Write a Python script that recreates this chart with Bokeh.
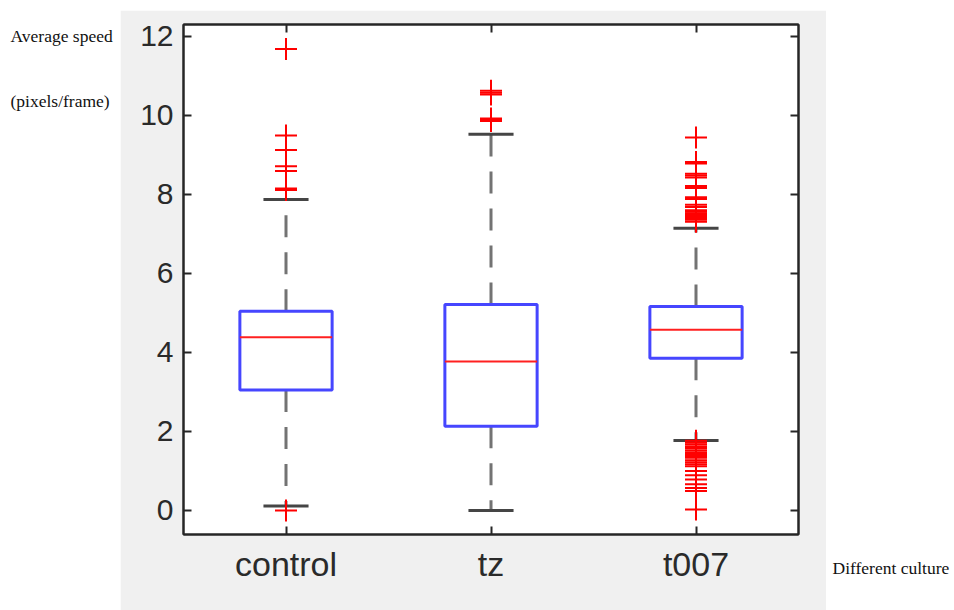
from bokeh.plotting import figure
from bokeh.layouts import row, column
from bokeh.models import FixedTicker, LinearAxis, Range1d
from bokeh.core.properties import value
from bokeh.embed import file_html
from bokeh.resources import INLINE

# ---- data ----
categories = ["control", "tz", "t007"]
q1 = [3.05, 2.13, 3.85]
median = [4.38, 3.77, 4.57]
q3 = [5.04, 5.21, 5.16]
whisker_lo = [0.11, 0.0, 1.77]
whisker_hi = [7.87, 9.52, 7.14]

outliers_control = [11.68, 9.49, 9.12, 8.71, 8.59, 8.15, 8.11, 0.0]
outliers_tz = [10.62, 10.57, 10.53, 9.92, 9.89, 9.86]
outliers_t007 = [9.44, 8.82, 8.78, 8.52, 8.48, 8.43, 8.21, 8.16, 7.93, 7.88,
                 7.74, 7.68, 7.60, 7.56, 7.52, 7.48, 7.44, 7.40, 7.36, 7.31,
                 1.76, 1.71, 1.67, 1.62, 1.58, 1.52, 1.47, 1.43, 1.38, 1.33,
                 1.27, 1.22, 1.17, 1.12, 1.00, 0.89, 0.78, 0.66, 0.57, 0.49, 0.02]
outliers = [outliers_control, outliers_tz, outliers_t007]

y_ticks = [0, 2, 4, 6, 8, 10, 12]
y_label_lines = ["Average speed", "(pixels/frame)"]
x_label = "Different culture"

# ---- main figure ----
xs = [i + 1 for i in range(len(categories))]
BOX_W = 0.45
CAP_W = 0.22

p = figure(width=706, height=600, output_backend="svg", toolbar_location=None,
           x_range=Range1d(0.5, 3.5), y_range=Range1d(-0.61, 12.3),
           min_border_left=63, min_border_right=28, min_border_top=14,
           min_border_bottom=76, x_axis_location=None, y_axis_location=None)
p.border_fill_color = "#f0f0f0"
p.background_fill_color = "white"
p.outline_line_color = "#262626"
p.outline_line_width = 2
p.grid.visible = False
p.margin = 0

tick_font = "Liberation Sans"


def make_axis(ticks, font_size=None, overrides=None):
    ax = LinearAxis(ticker=FixedTicker(ticks=ticks))
    ax.major_tick_in = 8
    ax.major_tick_out = 0
    ax.minor_tick_line_color = None
    ax.major_tick_line_color = "#262626"
    ax.major_tick_line_width = 2
    ax.axis_line_color = "#262626"
    ax.axis_line_width = 2
    if font_size:
        ax.major_label_text_font = tick_font
        ax.major_label_text_font_size = font_size
        ax.major_label_text_color = "#2a2a2a"
        ax.major_label_standoff = 10
    else:
        ax.major_label_text_font_size = "0px"
        ax.major_label_text_color = None
        ax.major_label_standoff = 0
    if overrides:
        ax.major_label_overrides = overrides
    return ax


p.add_layout(make_axis(y_ticks, "30px"), "left")
p.add_layout(make_axis(y_ticks), "right")
p.add_layout(make_axis(xs, "34px", {x: c for x, c in zip(xs, categories)}), "below")
p.add_layout(make_axis(xs), "above")

# whiskers (dashed)
p.segment(x0=xs, y0=q3, x1=xs, y1=whisker_hi, line_color="#737373", line_width=3,
          line_dash="22 15")
p.segment(x0=xs, y0=q1, x1=xs, y1=whisker_lo, line_color="#737373", line_width=3,
          line_dash="22 15")
# caps
p.segment(x0=[x - CAP_W / 2 for x in xs], y0=whisker_hi,
          x1=[x + CAP_W / 2 for x in xs], y1=whisker_hi,
          line_color="#454545", line_width=3)
p.segment(x0=[x - CAP_W / 2 for x in xs], y0=whisker_lo,
          x1=[x + CAP_W / 2 for x in xs], y1=whisker_lo,
          line_color="#454545", line_width=3)
# boxes
p.quad(left=[x - BOX_W / 2 for x in xs], right=[x + BOX_W / 2 for x in xs],
       bottom=q1, top=q3, fill_color=None, line_color="#4646ff", line_width=3)
# medians
p.segment(x0=[x - BOX_W / 2 for x in xs], y0=median,
          x1=[x + BOX_W / 2 for x in xs], y1=median,
          line_color="#ff2020", line_width=2)
# outliers
ox, oy = [], []
for x, vals in zip(xs, outliers):
    ox += [x] * len(vals)
    oy += vals
p.scatter(x=ox, y=oy, marker="cross", size=22, line_color="#ff0000", line_width=2)


# ---- side strips holding the outer texts ----
def text_strip(w, h, xs_, ys_, texts):
    f = figure(width=w, height=h, output_backend="svg", toolbar_location=None,
               x_range=Range1d(0, w), y_range=Range1d(h, 0),
               min_border=0, x_axis_location=None, y_axis_location=None)
    f.grid.visible = False
    f.outline_line_color = None
    f.border_fill_color = "white"
    f.background_fill_color = "white"
    f.margin = 0
    f.text(x=xs_, y=ys_, text=texts, text_font=value("Liberation Serif"),
           text_font_size="17.5px", text_color="#111111", text_baseline="middle")
    return f


left = text_strip(120, 610, [10, 10], [35, 100], y_label_lines)
right = text_strip(128, 610, [6], [567], [x_label])
top_pad = figure(width=706, height=10, output_backend="svg", toolbar_location=None,
                 min_border=0, x_axis_location=None, y_axis_location=None)
top_pad.outline_line_color = None
top_pad.grid.visible = False
top_pad.border_fill_color = "white"
top_pad.background_fill_color = "white"
top_pad.margin = 0

layout = row(left, column(top_pad, p, spacing=0), right, spacing=0)
layout.margin = 0

open("out.html", "w").write(file_html(layout, INLINE))
